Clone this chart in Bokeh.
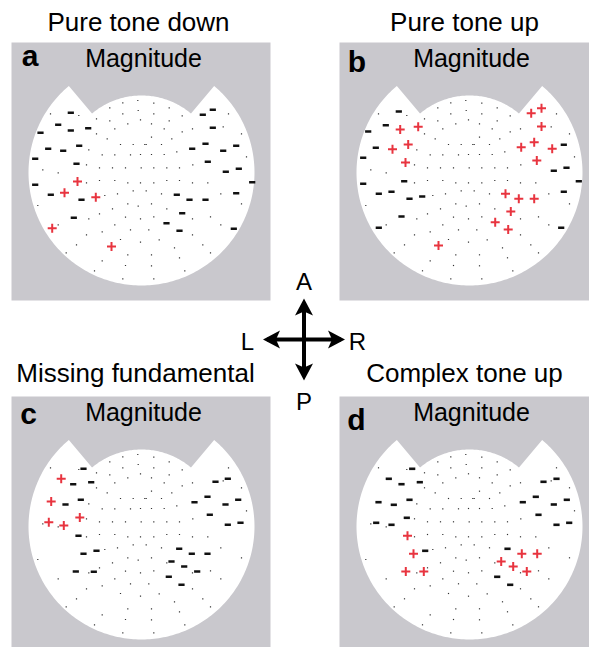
import numpy as np
from bokeh.plotting import figure
from bokeh.models import Range1d
from bokeh.core.properties import value
from bokeh.embed import file_html
from bokeh.resources import INLINE

# ---------------- data (sensor positions relative to head centre, px, y up) ----------------
DOT_X = [-91, -62.7, -45, -31.7, -18.7, -3.7, -18.7, -31.7, -13.7, -45, -26.7, -34.3, -21, -8.3,
         -52.7, -39.3, -26.7, -11, -98.7, -83.3, -55, -42, -29, -16, -55, -42, -26.7, -13.7, -1,
         -3.3, -1, 3.3,
         12.3, 27.7, 12.3, 40.7, 87, 27.7, 10, 22.7, 40.7, 51, 81.7, 100, 10, 30.3, 4.7, 20, 35.3,
         -1, 10, 22.7, 105, 51.3, -0.3, 12.3, 25.3, 38, 12.3, 25.3, 38, 51, 66.3,
         -103.7, -36.7, -24, -8.3, -13.7, -3.3, -29, -42, -52.7, -16, -1, -83.3, -26.7, -11, -39.3,
         -55, -21, -1, -65, -75.3, -13.7, -39.3, -16, -47, -18.7,
         4.7, 20, 79.3, 10, 25.3, 100, 12.3, 51, 69, 7.3, 79.3, 51, 17.7, 33, 61.3, 10, 38, 69,
         10, 43.3, 12.3]
DOT_Y = [58.7, 57, 53.7, 64.7, 69.7, 72, 58.7, 51.7, 48.7, 38.7, 43.7, 33.7, 28, 28,
         22.7, 17.7, 17.7, 17.7, 2.7, -0.3, 7.7, 4.7, 4.7, 4.7, -10.3, -8, -8, -10.3, -10.3,
         62, 52.7, 28,
         69.3, 64.7, 58.7, 56.7, 58.7, 51.7, 48.7, 43.7, 40.7, 43.7, 45.7, 38.7, 35.3, 33.7, 28, 28, 20.7,
         18, 18, 18, 15.7, 7.7, 4.7, 4.7, 4.7, 4.7, -10.3, -8, -8, -10.3, -10.3,
         -33, -23, -21.3, -18.3, -31.3, -33.7, -36.3, -41.3, -46.3, -44.7, -46.3, -52.3, -52.3, -57.3, -59.3,
         -62.3, -67, -69.7, -72.3, -80.3, -82.3, -88.3, -93, -98.3, -106.3,
         -18.3, -21.3, -21.3, -31.3, -36.3, -31.3, -44.3, -46.3, -44.3, -57.3, -52.3, -62.3, -67.3, -75.3, -72.3, -82.3, -85.3, -80.3,
         -93.3, -98.3, -106.3]

# panel a: Pure tone down
A_MINUS_X = [-70.7, -83.3, -53.3, -70.7, -101, -62.3, -93.3, -78.3, -106.3, -65, -106.3, -90.7, -60, -67.7,
             71.3, 61.3, 71.3, 64, 50.7, 81.7, 94.7, 66.3, 84.3, 97.3, 110.7, 94.7, 35.3, 48, 64, 40.7, 25, 38, 92.3]
A_MINUS_Y = [59.7, 47.7, 44.3, 42, 39.7, 26.7, 23.7, 21.7, 13.7, 8.7, -12.3, -22.3, -27.3, -45.3,
             62.7, 57.7, 44.7, 28.7, 23.7, 21.7, 26.7, 10.7, 0.7, 3.7, -9.7, -20.7, -22.3, -27.3, -27.3, -40.7, -50.7, -58.3, -56.3]
A_PLUS_X = [-64, -77, -45.7, -89.3, -30]
A_PLUS_Y = [-9, -20.3, -24.7, -55.7, -74]

# panel b: Pure tone up
B_MINUS_X = [-70.7, -83.7, -101.3, -93.7, -106.3, -106.3, -90.7, -78, -60, -47.3, -65.3, -68, -90.7,
             94.3, 84.3, 97, 109.3, 94.3, 91.7]
B_MINUS_Y = [61, 47.3, 41, 24.7, 14.7, -11.3, -21.3, -19.3, -26.3, -24, -8.7, -44, -55.3,
             27.7, 1.7, 4.7, -8.7, -19.3, -55.3]
B_PLUS_X = [-69.3, -51.3, -77, -61.3, -64, 61.7, 72, 72, 51.7, 64.7, 82.7, 67.3, 36, 49.3, 64.7, 41.3, 25.7, 38.7, -31]
B_PLUS_Y = [43, 45.7, 23.3, 28, 10, 59.3, 64.3, 46, 25.3, 30.3, 23.7, 12, -21.3, -26.3, -26.3, -39, -49.7, -57, -73]

# panel c: Missing fundamental
C_MINUS_X = [-58, -68.3, -50.3, -76, -60.7, -63, -58, -45, -65.7, -47.7,
             86.3, 74, 66, 53, 96.7, 84, 68.3, 86.3, 99, 37.7, 50.3, 66, 30, 42.7, 55.7, 27.3, 40]
C_MINUS_Y = [57.7, 42.3, 44.3, 22, 26.7, -9.3, -27.3, -24.3, -45, -45.3,
             47.7, 44.7, 29.7, 24.3, 26.7, 22, 11.7, 1.7, 3.7, -22.3, -27.3, -27.3, -35, -40, -45, -50.3, -58.3]
C_PLUS_X = [-80.3, -90.3, -61.7, -92.7, -77.7]
C_PLUS_Y = [47.7, 25, 9, 4.3, 1]

# panel d: Complex tone up
D_MINUS_X = [-57.3, -80.7, -68, -49.7, -91, -75.7, -60, -93.3, -78, -62.7, -44.3,
             87, 74, 66.3, 53.3, 97.3, 84.3, 69, 87, 99.7, 38, 27.7, 40.7]
D_MINUS_Y = [57.7, 47.7, 42.3, 44.3, 24.3, 21.7, 26.7, 3.7, 1.7, 8.7, -24.3,
             47.7, 44.7, 29.7, 24.3, 26.7, 22, 11.7, 1.7, 3.7, -22.3, -50.3, -58.3]
D_PLUS_X = [-62, -56, -63.7, -45.7, 52.3, 67.7, 31.7, 43.7, 57.3]
D_PLUS_Y = [-9.3, -27.3, -45, -45, -27.3, -27.3, -35, -40, -45]

TITLES = ["Pure tone down", "Pure tone up", "Missing fundamental", "Complex tone up"]
LETTERS = ["a", "b", "c", "d"]
SUBTITLE = "Magnitude"
DIRS = ["A", "P", "L", "R"]

# ---------------- layout (page pixel coordinates) ----------------
W, H = 589, 647
GRAY = "#c9c8cd"
RED = "#e8343f"

p = figure(width=W, height=H, x_range=Range1d(0, W), y_range=Range1d(H, 0),
           x_axis_type=None, y_axis_type=None, output_backend="svg",
           toolbar_location=None, min_border=0)
p.grid.visible = False
p.outline_line_color = None
p.background_fill_color = "white"
p.border_fill_color = "white"

panels = [
    dict(left=11, top=42, cx=141, cy=172, minus=(A_MINUS_X, A_MINUS_Y), plus=(A_PLUS_X, A_PLUS_Y),
         title_x=138, title_y=31, let_x=29.5, let_y=66),
    dict(left=339, top=42, cx=469, cy=172, minus=(B_MINUS_X, B_MINUS_Y), plus=(B_PLUS_X, B_PLUS_Y),
         title_x=464, title_y=31, let_x=356.5, let_y=72.5),
    dict(left=11, top=396, cx=141, cy=526, minus=(C_MINUS_X, C_MINUS_Y), plus=(C_PLUS_X, C_PLUS_Y),
         title_x=135, title_y=382, let_x=28, let_y=424),
    dict(left=339, top=396, cx=469, cy=526, minus=(D_MINUS_X, D_MINUS_Y), plus=(D_PLUS_X, D_PLUS_Y),
         title_x=464, title_y=382, let_x=356, let_y=430.5),
]
PW, PH = 259, 258
SHIFT = 0.37  # empirical em offset of the rendered baseline


def head(cx, cy, R=113, r=77, a0=50, a1=130):
    t_out = np.radians(np.linspace(a1, a0 + 360, 240))
    t_in = np.radians(np.linspace(a0, a1, 80))
    xs = list(cx + R * np.cos(t_out)) + list(cx + r * np.cos(t_in))
    ys = list(cy - R * np.sin(t_out)) + list(cy - r * np.sin(t_in))
    return xs, ys


def label(x, y, txt, size, bold=False):
    p.text(x=x, y=[v - SHIFT * size for v in y], text=txt, text_font=value("Liberation Sans"),
           text_font_style="bold" if bold else "normal", text_font_size=f"{size}px",
           text_align="center", text_baseline="alphabetic", text_color="black")


for i, pn in enumerate(panels):
    p.quad(left=pn["left"], right=pn["left"] + PW, top=pn["top"], bottom=pn["top"] + PH,
           fill_color=GRAY, line_color=None)
    hx, hy = head(pn["cx"], pn["cy"])
    p.patch(hx, hy, fill_color="white", line_color=None)
    cx, cy = pn["cx"], pn["cy"]
    p.rect(x=[cx + v for v in DOT_X], y=[cy - v for v in DOT_Y], width=1.2, height=1.2,
           fill_color="#333333", line_color=None)
    mx, my = pn["minus"]
    p.rect(x=[cx + v for v in mx], y=[cy - v for v in my], width=6.2, height=2.6,
           fill_color="#111111", line_color=None)
    qx, qy = pn["plus"]
    p.scatter(x=[cx + v for v in qx], y=[cy - v for v in qy], marker="cross", size=9,
              line_color=RED, line_width=2)
    label([pn["title_x"]], [pn["title_y"]], [TITLES[i]], 26)
    label([cx + 2], [pn["top"] + 25], [SUBTITLE], 25)
    label([pn["let_x"]], [pn["let_y"]], [LETTERS[i]], 30, bold=True)

# orientation cross
OX, OY, ARM, HL, HW, NOTCH = 303.5, 339, 41, 17, 9, 4
p.segment(x0=[OX - ARM + NOTCH, OX], y0=[OY, OY - ARM + NOTCH], x1=[OX + ARM - NOTCH, OX], y1=[OY, OY + ARM - NOTCH],
          line_color="black", line_width=4)
heads_x, heads_y = [], []
for dx, dy in [(1, 0), (-1, 0), (0, 1), (0, -1)]:
    tx, ty = OX + dx * ARM, OY + dy * ARM
    bx, by = tx - dx * HL, ty - dy * HL
    nx, ny = tx - dx * (HL - NOTCH), ty - dy * (HL - NOTCH)
    px_, py_ = -dy, dx
    heads_x.append([tx, bx + px_ * HW, nx, bx - px_ * HW])
    heads_y.append([ty, by + py_ * HW, ny, by - py_ * HW])
p.patches(heads_x, heads_y, fill_color="black", line_color=None)
label([OX, OX, 247, 357], [290, 410, 350, 350], DIRS, 24)

open("out.html", "w").write(file_html(p, INLINE))
